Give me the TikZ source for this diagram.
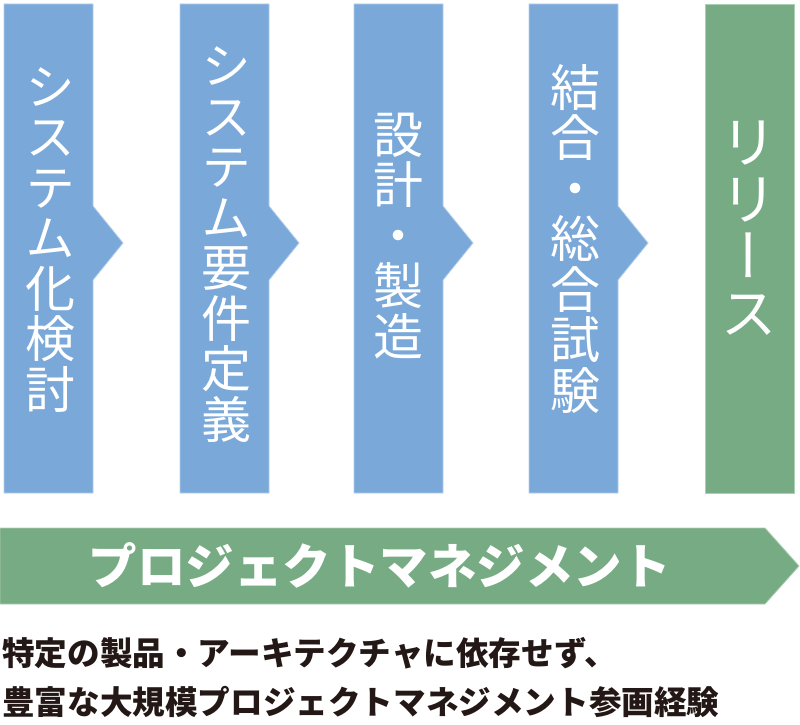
\documentclass[tikz,border=0pt]{standalone}
\usepackage{fontspec}
\newfontfamily\jpfont{Noto Sans CJK JP}
\newfontfamily\jpvert[RawFeature=+vert]{Noto Sans CJK JP}
\definecolor{stepblue}{RGB}{122,168,217}
\definecolor{stepgreen}{RGB}{118,171,131}
\definecolor{edgeblue}{RGB}{178,205,234}
\definecolor{edgegreen}{RGB}{172,206,180}
\definecolor{inkblack}{RGB}{35,24,21}

\begin{document}
\begin{tikzpicture}[x=1pt,y=-1pt,
    phase/.style={fill=stepblue, draw=edgeblue, line width=0.8pt},
    release/.style={fill=stepgreen, draw=edgegreen, line width=0.8pt},
    coltext/.style={text=white, align=center, inner sep=0pt,
        font=\jpvert\fontsize{50}{50.5}\selectfont},
    pmtext/.style={text=white, inner sep=0pt,
        font=\jpfont\bfseries\fontsize{48.5}{48.5}\selectfont},
    notetext/.style={text=inkblack, anchor=west, inner sep=0pt,
        font=\jpfont\bfseries\fontsize{32.6}{32.6}\selectfont}]
            \useasboundingbox (0,0) rectangle (800,725);

            % phases with arrow notch
            \foreach \xl in {4,180,354,529}
                \filldraw[phase] (\xl,4) -- (\xl+89,4) -- (\xl+89,206) -- (\xl+119,243)
                    -- (\xl+89,280) -- (\xl+89,493) -- (\xl,493) -- cycle;
            \filldraw[release] (705,4) rectangle (794,493);

            % project management banner
            \filldraw[release] (0,528) -- (765,528) -- (799,566) -- (765,604) -- (0,604) -- cycle;

            \node[coltext] (study) at (50,240) {シ\\ス\\テ\\ム\\化\\検\\討};
            \node[coltext] (reqdef) at (226,244.5) {シ\\ス\\テ\\ム\\要\\件\\定\\義};
            \node[coltext] (design) at (398,236) {設\\計\\・\\製\\造};
            \node[coltext] (testing) at (575,238.5) {結\\合\\・\\総\\合\\試\\験};
            \node[coltext, font=\jpvert\fontsize{57}{57}\selectfont] (rel) at (749,228) {リ\\リ\\ー\\ス};

            \node[pmtext] (pm) at (379.5,565) {プロジェクトマネジメント};

            \node[notetext] (note1) at (2,653) {特定の製品・アーキテクチャに依存せず、};
            \node[notetext] (note2) at (2,702) {豊富な大規模プロジェクトマネジメント参画経験};
        \end{tikzpicture}
\end{document}
